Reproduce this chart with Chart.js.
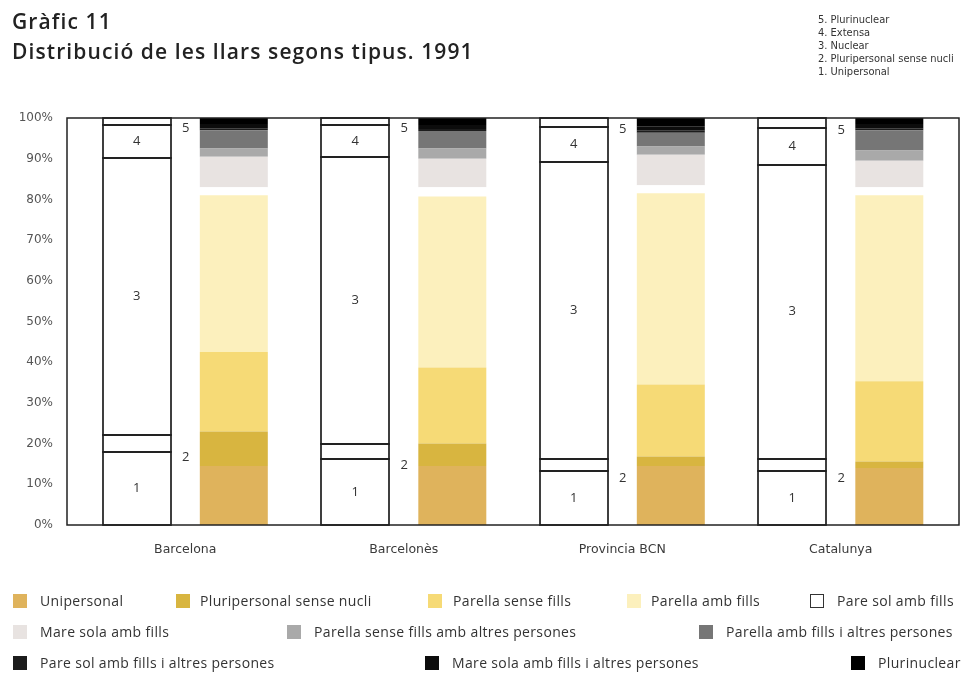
<!DOCTYPE html>
<html lang="ca">
<head>
    <meta charset="UTF-8">
    <meta name="viewport" content="width=device-width, initial-scale=1.0">
    <title>Gràfic 11. Distribució de les llars segons tipus. 1991</title>
    <script src="https://cdn.jsdelivr.net/npm/chart.js"></script>
    <style>
        body {
            margin: 0;
            background-color: #fff;
            font-family: "Open Sans", Arial, sans-serif;
            color: #2a2a2a;
        }
        .wrap {
            position: relative;
            width: 962px;
            height: 674px;
            overflow: hidden;
        }
        canvas {
            position: absolute;
            left: 0;
            top: 0;
        }
        .title {
            position: absolute;
            left: 12px;
            top: 6px;
            font-size: 21px;
            font-weight: 600;
            letter-spacing: 1.1px;
            line-height: 30px;
            color: #222;
        }
        .types {
            position: absolute;
            left: 818px;
            top: 13px;
            font-family: "Liberation Sans Narrow", "DejaVu Sans Condensed", sans-serif;
            font-size: 11px;
            line-height: 13px;
            color: #333;
            white-space: nowrap;
        }
        .mark {
            position: absolute;
            width: 14px;
            height: 14px;
            box-sizing: border-box;
        }
        .label {
            position: absolute;
            font-size: 14px;
            letter-spacing: 0.35px;
            line-height: 18px;
            color: #333;
            white-space: nowrap;
        }
    </style>
</head>
<body>
    <div class="wrap" id="wrap">
        <canvas id="llarsChart" width="962" height="674"></canvas>
        <div class="title">Gràfic 11<br>Distribució de les llars segons tipus. 1991</div>
        <div class="types" id="types"></div>
    </div>

    <script>
        const categories = ['Barcelona', 'Barcelonès', 'Provincia BCN', 'Catalunya'];

        // tipus de llar (barra de contorn)
        const tipusNames = ['Unipersonal', 'Pluripersonal sense nucli', 'Nuclear', 'Extensa', 'Plurinuclear'];
        const unipersonal = [18.0, 16.3, 13.3, 13.3];
        const pluripersonal = [4.2, 3.6, 3.0, 3.0];
        const nuclear = [67.9, 70.4, 72.8, 72.2];
        const extensa = [8.2, 8.0, 8.8, 9.0];
        const plurinuclear = [1.7, 1.7, 2.1, 2.5];
        const tipusValues = [unipersonal, pluripersonal, nuclear, extensa, plurinuclear];

        // detall (barra de colors)
        const detallNames = [
            'Unipersonal', 'Pluripersonal sense nucli', 'Parella sense fills', 'Parella amb fills',
            'Pare sol amb fills', 'Mare sola amb fills', 'Parella sense fills amb altres persones',
            'Parella amb fills i altres persones', 'Pare sol amb fills i altres persones',
            'Mare sola amb fills i altres persones', 'Plurinuclear'
        ];
        const detUnipersonal = [14.5, 14.5, 14.5, 14.0];
        const detPluripersonal = [8.5, 5.5, 2.3, 1.6];
        const parellaSenseFills = [19.5, 18.7, 17.7, 19.7];
        const parellaAmbFills = [38.5, 42.0, 47.0, 45.7];
        const pareSol = [2.0, 2.3, 2.0, 2.0];
        const mareSola = [7.5, 7.0, 7.5, 6.5];
        const parellaSenseAltres = [2.0, 2.5, 2.0, 2.5];
        const parellaAmbAltres = [4.5, 4.3, 3.4, 5.0];
        const pareSolAltres = [0.5, 0.5, 0.6, 0.5];
        const mareSolaAltres = [1.0, 1.0, 1.0, 1.0];
        const detPlurinuclear = [1.5, 1.7, 2.0, 1.5];
        const detallValues = [
            detUnipersonal, detPluripersonal, parellaSenseFills, parellaAmbFills, pareSol, mareSola,
            parellaSenseAltres, parellaAmbAltres, pareSolAltres, mareSolaAltres, detPlurinuclear
        ];
        const detallColors = [
            '#dfb35c', '#d8b540', '#f6da76', '#fcf0bd', '#ffffff', '#e8e3e1',
            '#a9a9a9', '#767676', '#1c1c1c', '#0c0c0c', '#000000'
        ];

        const yTicks = [0, 10, 20, 30, 40, 50, 60, 70, 80, 90, 100];

        // posicions de la llegenda: [x quadre, x text, y]
        const legendPos = [
            [13, 40, 601], [176, 200, 601], [428, 453, 601], [627, 651, 601], [810, 837, 601],
            [13, 40, 632], [287, 314, 632], [699, 726, 632],
            [13, 40, 663], [425, 452, 663], [851, 878, 663]
        ];

        // llegenda de tipus (dalt a la dreta)
        document.getElementById('types').innerHTML = tipusNames
            .map((n, i) => (i + 1) + '. ' + n)
            .reverse()
            .join('<br>');

        // llegenda de detall (a baix)
        const wrap = document.getElementById('wrap');
        detallNames.forEach((name, i) => {
            const [mx, tx, y] = legendPos[i];
            const m = document.createElement('div');
            m.className = 'mark';
            m.style.left = mx + 'px';
            m.style.top = (y - 7) + 'px';
            m.style.background = detallColors[i];
            if (detallColors[i] === '#ffffff') m.style.border = '1.5px solid #333';
            wrap.appendChild(m);
            const t = document.createElement('div');
            t.className = 'label';
            t.style.left = tx + 'px';
            t.style.top = (y - 9) + 'px';
            t.textContent = name;
            wrap.appendChild(t);
        });

        // marc del gràfic
        const frame = {
            id: 'frame',
            afterDraw(chart) {
                const { ctx, chartArea: a } = chart;
                ctx.save();
                ctx.strokeStyle = '#222';
                ctx.lineWidth = 1.5;
                ctx.strokeRect(a.left - 9, a.top, a.width + 18, a.height);
                ctx.restore();
            }
        };

        // contorns i números 1-5 a la barra de tipus
        const segmentLabels = {
            id: 'segmentLabels',
            afterDatasetsDraw(chart) {
                const ctx = chart.ctx;
                ctx.save();
                ctx.strokeStyle = '#1e1e1e';
                ctx.lineWidth = 1.7;
                tipusNames.forEach((name, i) => {
                    chart.getDatasetMeta(i).data.forEach(bar => {
                        const p = bar.getProps(['x', 'y', 'base', 'width'], true);
                        const l = Math.round(p.x - p.width / 2);
                        const r = Math.round(p.x + p.width / 2);
                        const t = Math.round(p.y);
                        const b = Math.round(p.base);
                        ctx.strokeRect(l, t, r - l, b - t);
                    });
                });
                ctx.font = '13px "Open Sans"';
                ctx.fillStyle = '#333';
                ctx.textAlign = 'center';
                ctx.textBaseline = 'middle';
                tipusNames.forEach((name, i) => {
                    chart.getDatasetMeta(i).data.forEach(bar => {
                        const p = bar.getProps(['x', 'y', 'base', 'width'], true);
                        const mid = (p.y + p.base) / 2;
                        const num = String(i + 1);
                        if (i === 1) ctx.fillText(num, p.x + p.width / 2 + 15, mid + 14);
                        else if (i === 4) ctx.fillText(num, p.x + p.width / 2 + 15, mid + 7);
                        else ctx.fillText(num, p.x, mid);
                    });
                });
                ctx.restore();
            }
        };

        const datasets = [];
        tipusNames.forEach((name, i) => {
            datasets.push({
                label: name,
                data: tipusValues[i],
                stack: 'tipus',
                backgroundColor: '#ffffff',
                borderWidth: 0
            });
        });
        detallNames.forEach((name, i) => {
            datasets.push({
                label: name,
                data: detallValues[i],
                stack: 'detall',
                backgroundColor: detallColors[i],
                borderWidth: 0
            });
        });

        const ctx = document.getElementById('llarsChart').getContext('2d');
        const llarsChart = new Chart(ctx, {
            type: 'bar',
            data: { labels: categories, datasets: datasets },
            options: {
                responsive: false,
                animation: false,
                categoryPercentage: 0.889,
                barPercentage: 0.70,
                layout: { padding: { top: 118, right: 12, bottom: 0, left: 0 } },
                plugins: {
                    legend: { display: false },
                    title: { display: false }
                },
                scales: {
                    x: {
                        stacked: true,
                        grid: { display: false, drawTicks: false },
                        border: { display: false },
                        ticks: {
                            color: '#3a3a3a',
                            font: { family: 'DejaVu Sans', size: 12.5 },
                            padding: 17
                        },
                        afterFit(s) { s.height = 149; }
                    },
                    y: {
                        stacked: true,
                        min: 0,
                        max: 100,
                        afterBuildTicks(s) { s.ticks = yTicks.map(v => ({ value: v })); },
                        grid: { display: false, drawTicks: false },
                        border: { display: false },
                        ticks: {
                            color: '#555',
                            font: { family: 'DejaVu Sans', size: 12 },
                            padding: 23,
                            callback: v => v + '%'
                        },
                        afterFit(s) { s.width = 76; }
                    }
                }
            },
            plugins: [frame, segmentLabels]
        });
    </script>
</body>
</html>
